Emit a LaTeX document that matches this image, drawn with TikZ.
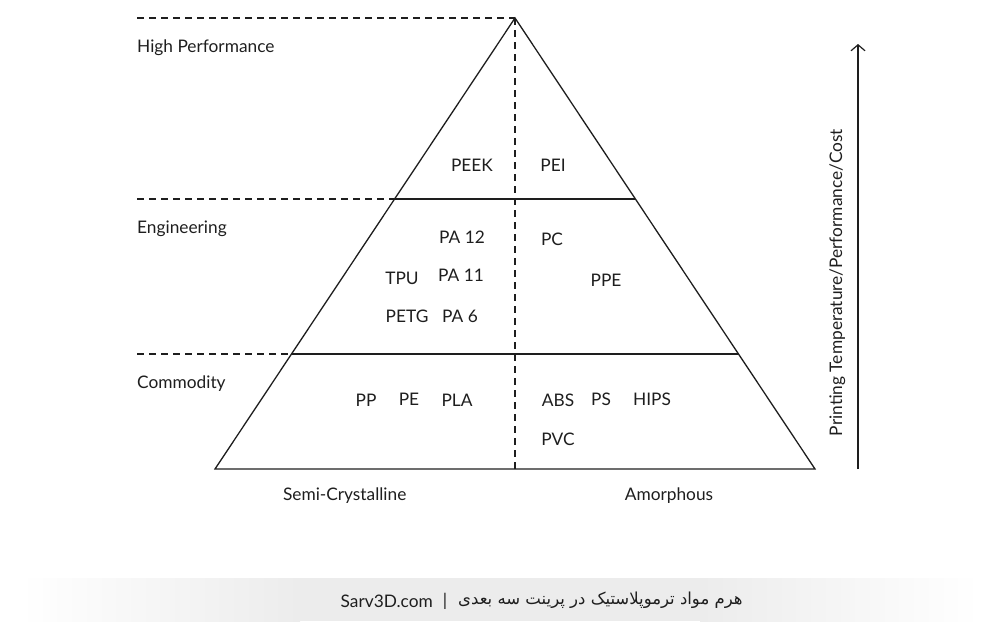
\documentclass[tikz,border=0pt]{standalone}
\usepackage{fontspec}
\setmainfont{Lato}
\newfontfamily\arabicfont[Script=Arabic]{DejaVu Sans}
\TeXXeTstate=1
\usetikzlibrary{arrows.meta}
\definecolor{ink}{HTML}{1E1E1E}
\definecolor{band}{HTML}{ECECEC}
\tikzset{
  lbl/.style={text=ink, font=\fontsize{17.3}{20}\selectfont, inner sep=0pt, anchor=base},
  lblw/.style={lbl, anchor=base west},
  edge/.style={draw=ink, line width=1.3pt},
  guide/.style={draw=ink, line width=1.2pt, dash pattern=on 7pt off 5pt},
}
\begin{document}
\begin{tikzpicture}[x=1pt,y=-1pt]
\useasboundingbox (0,0) rectangle (1000,643);
% caption band
\fill[band] (300,578) rectangle (700,621);
\shade[left color=white, right color=band] (20,578) rectangle (300,621);
\shade[left color=band, right color=white] (700,578) rectangle (980,621);

% pyramid points
\coordinate (apex) at (515,18);
\coordinate (bl) at (215,469);
\coordinate (br) at (815,469);
\coordinate (bm) at (515,469);
\coordinate (e1l) at (394.6,199);
\coordinate (e1r) at (635.4,199);
\coordinate (c1l) at (291.5,354);
\coordinate (c1r) at (738.5,354);
\coordinate (g0) at (137,18);
\coordinate (g1) at (137,199);
\coordinate (g2) at (137,354);

\draw[edge, line join=miter] (bl) -- (apex) -- (br) -- cycle;
\draw[edge] (e1l) -- (e1r);
\draw[edge] (c1l) -- (c1r);
\draw[guide] (apex) -- (bm);
\draw[guide] (g0) -- (apex);
\draw[guide] (g1) -- (e1l);
\draw[guide] (g2) -- (c1l);

% tier labels
\node[lblw] (hp) at (137,52) {High Performance};
\node[lblw] (eng) at (137,233) {Engineering};
\node[lblw] (com) at (137,388.5) {Commodity};

% materials
\node[lbl] (peek) at (472,171.5) {PEEK};
\node[lbl] (pei) at (553,171.5) {PEI};
\node[lbl] (pa12) at (462,243) {PA 12};
\node[lbl] (pc) at (552,245.5) {PC};
\node[lbl] (tpu) at (402,284) {TPU};
\node[lbl] (pa11) at (461,281.5) {PA 11};
\node[lbl] (ppe) at (606,286) {PPE};
\node[lbl] (petg) at (407,322.7) {PETG};
\node[lbl] (pa6) at (460,322.7) {PA 6};
\node[lbl] (pp) at (366,406) {PP};
\node[lbl] (pe) at (409,405) {PE};
\node[lbl] (pla) at (457,406) {PLA};
\node[lbl] (abs) at (558,406) {ABS};
\node[lbl] (ps) at (601,405) {PS};
\node[lbl] (hips) at (652,405) {HIPS};
\node[lbl] (pvc) at (558,445.7) {PVC};

\node[lbl] (semi) at (344.7,500.5) {Semi-Crystalline};
\node[lbl] (amor) at (669,500.5) {Amorphous};

% arrow
\coordinate (ab) at (858,469);
\coordinate (at) at (858,44);
\draw[draw=ink, line width=1.2pt, -{Straight Barb[length=6pt,width=14pt,line width=1.2pt]}] (ab) -- (at);
\node[lbl, rotate=90] (axis) at (842,282.5) {Printing Temperature/Performance/Cost};

% caption
\node[lbl, anchor=base east] (site) at (433,607) {Sarv3D.com};
\node[lbl] (bar) at (445,606) {|};
\node[inner sep=0pt, text=ink, anchor=west, font=\arabicfont\fontsize{16.5}{20}\selectfont] (title) at (458,600) {\beginR هرم مواد ترموپلاستیک در پرینت سه بعدی\endR};
\end{tikzpicture}
\end{document}
